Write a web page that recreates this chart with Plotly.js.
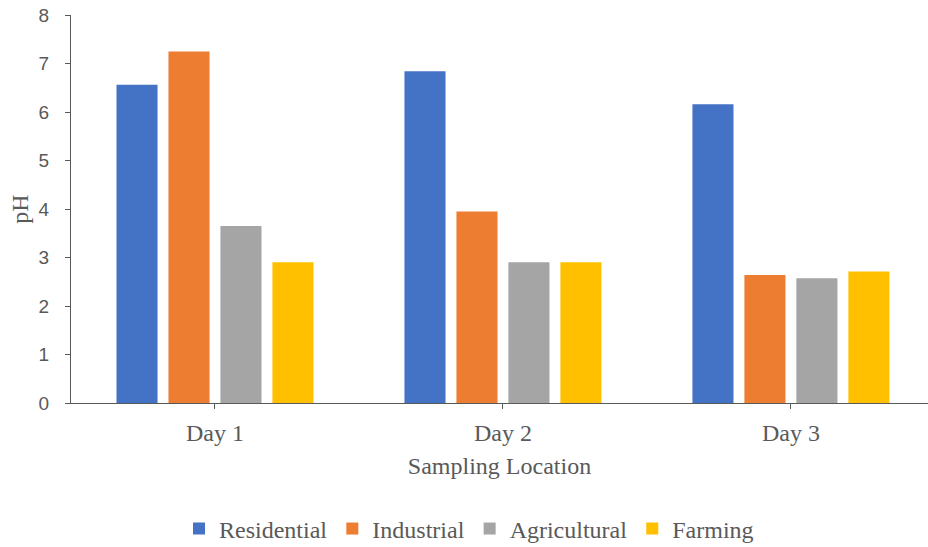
<!DOCTYPE html>
<html>
<head>
<meta charset="utf-8">
<script src="https://cdn.plot.ly/plotly-3.0.1.min.js"></script>
<style>html,body{margin:0;padding:0;background:#fff;}#chart{width:928px;height:547px;}</style>
</head>
<body>
<div id="chart"></div>
<script>
const categories = ["Day 1", "Day 2", "Day 3"];
const residential = [6.56, 6.84, 6.16];
const industrial = [7.25, 3.95, 2.64];
const agricultural = [3.65, 2.90, 2.57];
const farming = [2.90, 2.90, 2.71];
const seriesNames = ["Residential", "Industrial", "Agricultural", "Farming"];
const seriesColors = ["#4472C4", "#ED7D31", "#A5A5A5", "#FFC000"];
const yTicks = [0, 1, 2, 3, 4, 5, 6, 7, 8];

const seriesValues = [residential, industrial, agricultural, farming];
const traces = seriesValues.map((vals, i) => ({
  type: "bar",
  name: seriesNames[i],
  x: categories,
  y: vals,
  marker: {color: seriesColors[i], line: {width: 0}},
  hoverinfo: "x+y+name"
}));

const serif = "Liberation Serif, Times New Roman, serif";
const layout = {
  width: 928,
  height: 547,
  margin: {l: 71, r: 0, t: 15, b: 144},
  paper_bgcolor: "#fff",
  plot_bgcolor: "#fff",
  barmode: "group",
  bargap: 0.278,
  bargroupgap: 0.21,
  showlegend: true,
  legend: {
    orientation: "h",
    xref: "container", yref: "container",
    x: 0.5054, xanchor: "center",
    y: 0.033, yanchor: "middle",
    font: {family: serif, size: 24, color: "#595959"},
    itemgap: 0
  },
  xaxis: {
    type: "category",
    range: [-0.5, 2.476],
    showline: true,
    linecolor: "#595959",
    linewidth: 1,
    ticks: "outside",
    ticklen: 5,
    tickcolor: "#595959",
    showgrid: false,
    zeroline: false,
    ticklabelstandoff: 3,
    tickfont: {family: serif, size: 24, color: "#595959"},
    title: {text: "Sampling Location", font: {family: serif, size: 24, color: "#595959"}, standoff: 12}
  },
  yaxis: {
    range: [0, 8],
    tickvals: yTicks,
    showline: true,
    linecolor: "#595959",
    linewidth: 1,
    ticks: "outside",
    ticklen: 5,
    tickcolor: "#595959",
    showgrid: false,
    zeroline: false,
    ticklabelstandoff: 12,
    tickfont: {family: "Liberation Sans, Arial, sans-serif", size: 19, color: "#595959"},
    title: {text: "pH", font: {family: serif, size: 24, color: "#595959"}, standoff: 3}
  }
};

Plotly.newPlot("chart", traces, layout, {displayModeBar: false, staticPlot: true});
</script>
</body>
</html>
